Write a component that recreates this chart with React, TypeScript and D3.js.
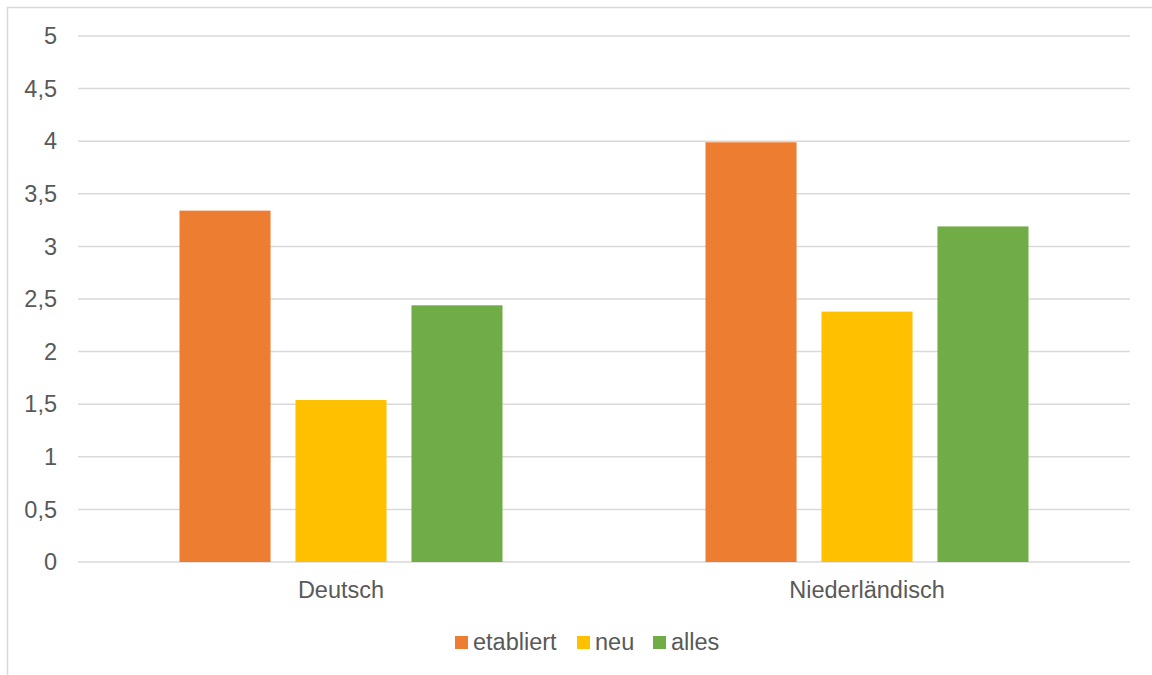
import React from "react";
import * as d3 from "d3";

const categories = ["Deutsch", "Niederländisch"];
const seriesNames = ["etabliert", "neu", "alles"];
const etabliert = [3.34, 3.99];
const neu = [1.54, 2.38];
const alles = [2.44, 3.19];
const yTicks = [0, 0.5, 1, 1.5, 2, 2.5, 3, 3.5, 4, 4.5, 5];
const colors = ["#ED7D31", "#FFC000", "#70AD47"];

export default function App() {
  const W = 1152;
  const H = 675;
  const left = 78;
  const right = 1130;
  const top = 36;
  const bottom = 562;
  const font = "'Liberation Sans', Arial, sans-serif";
  const textColor = "#595959";
  const fs = 23.5;

  const y = d3.scaleLinear().domain([0, 5]).range([bottom, top]);
  const x0 = d3.scaleBand<string>().domain(categories).range([left, right]).paddingInner(0).paddingOuter(0);
  const bw = x0.bandwidth();
  const x1 = d3
    .scaleBand<string>()
    .domain(seriesNames)
    .range([101.5, bw - 101.5])
    .paddingInner(0.215)
    .paddingOuter(0);
  const series = [etabliert, neu, alles];
  const fmt = (v: number) => String(v).replace(".", ",");

  const legendItems = [
    { name: seriesNames[0], sq: 455, tx: 473 },
    { name: seriesNames[1], sq: 577, tx: 595 },
    { name: seriesNames[2], sq: 653, tx: 671 },
  ];

  return (
    <svg
      width={W}
      height={H}
      style={{ position: "absolute", left: 0, top: 0, background: "#fff" }}
    >
      <rect x={7.5} y={7.5} width={1300} height={800} fill="#fff" stroke="#d9d9d9" strokeWidth={1.5} />
      {yTicks.map((t) => (
        <g key={t}>
          <line x1={left} x2={right} y1={y(t)} y2={y(t)} stroke="#d9d9d9" strokeWidth={1.5} />
          <text
            x={57}
            y={y(t)}
            dy="0.35em"
            textAnchor="end"
            fontFamily={font}
            fontSize={fs}
            fill={textColor}
          >
            {fmt(t)}
          </text>
        </g>
      ))}
      {categories.map((c, ci) => (
        <g key={c}>
          {series.map((vals, si) => (
            <rect
              key={si}
              x={(x0(c) as number) + (x1(seriesNames[si]) as number)}
              y={y(vals[ci])}
              width={x1.bandwidth()}
              height={bottom - y(vals[ci])}
              fill={colors[si]}
            />
          ))}
          <text
            x={(x0(c) as number) + bw / 2}
            y={598}
            textAnchor="middle"
            fontFamily={font}
            fontSize={fs}
            fill={textColor}
          >
            {c}
          </text>
        </g>
      ))}
      {legendItems.map((l, i) => (
        <g key={l.name}>
          <rect x={l.sq} y={636} width={13} height={13} fill={colors[i]} />
          <text x={l.tx} y={650} fontFamily={font} fontSize={fs} fill={textColor}>
            {l.name}
          </text>
        </g>
      ))}
    </svg>
  );
}
